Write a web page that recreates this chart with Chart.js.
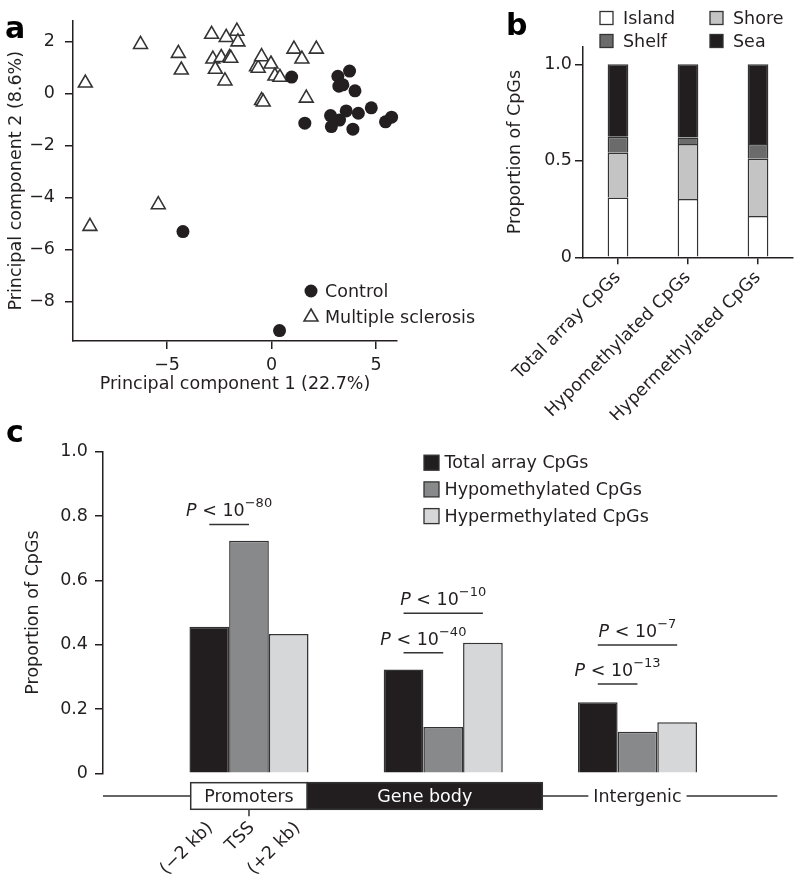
<!DOCTYPE html>
<html>
<head>
<meta charset="utf-8">
<script src="https://cdn.jsdelivr.net/npm/chart.js@4.4.1/dist/chart.umd.min.js"></script>
<style>
  body { margin: 0; background: #fff; }
  #wrap { position: relative; width: 800px; height: 881px; overflow: hidden; }
  canvas { position: absolute; }
  #pca { left: 0; top: 0; }
  #regions { left: 400px; top: 0; }
  #features { left: 0; top: 400px; }
</style>
</head>
<body>
<div id="wrap">
  <canvas id="features" width="800" height="481"></canvas>
  <canvas id="regions" width="400" height="420"></canvas>
  <canvas id="pca" width="490" height="400"></canvas>
</div>
<script>
// ---- panel a : PCA scores ----
const controlPC1 = [0.96, 3.17, 3.73, 3.22, 3.41, 3.99, 1.59, 2.82, 2.86, 3.25, 3.57, 3.89, 4.15, 4.77, 5.45, 5.74, -4.24, 0.38];
const controlPC2 = [0.63, 0.66, 0.86, 0.28, 0.33, 0.10, -1.14, -0.85, -1.27, -1.02, -0.67, -1.37, -0.76, -0.55, -1.09, -0.91, -5.30, -9.10];
const msPC1 = [-8.91, -6.27, -4.46, -4.32, -2.87, -2.81, -2.69, -2.41, -2.17, -2.01, -1.95, -2.23, -1.66, -1.61,
  -0.72, -0.64, -0.48, -0.03, 0.16, 0.40, -0.48, -0.40, 1.07, 1.45, 2.14, 1.66, -5.42, -8.69];
const msPC2 = [0.40, 1.88, 1.54, 0.90, 2.27, 1.32, 0.93, 1.38, 2.15, 1.38, 1.35, 0.48, 2.39, 1.98,
  1.03, 0.97, 1.41, 1.13, 0.67, 0.62, -0.27, -0.33, 1.70, 1.32, 1.70, -0.18, -4.27, -5.10];
const pc1Ticks = [-5, 0, 5];
const pc2Ticks = [-8, -6, -4, -2, 0, 2];

// ---- panel b : CpG island context ----
const contextCats = ["Total array CpGs", "Hypomethylated CpGs", "Hypermethylated CpGs"];
const islandShare = [0.310, 0.302, 0.214];
const shoreShare = [0.232, 0.285, 0.297];
const shelfShare = [0.083, 0.033, 0.076];
const seaShare = [0.375, 0.380, 0.413];
const shareTicks = [0, 0.5, 1.0];

// ---- panel c : gene features ----
const featureCats = ["Promoters", "Gene body", "Intergenic"];
const featurePos = [1, 2, 3];
const totalProp = [0.456, 0.323, 0.221];
const hypoProp = [0.723, 0.144, 0.129];
const hyperProp = [0.433, 0.406, 0.159];
const propTicks = [0, 0.2, 0.4, 0.6, 0.8, 1.0];

// p-value brackets: feature index, from series, to series, exponent, height
const pFeature = [0, 1, 1, 2, 2];
const pFrom = [0, 0, 0, 0, 0];
const pTo = [1, 2, 1, 2, 1];
const pExp = ["\u221280", "\u221210", "\u221240", "\u22127", "\u221213"];
const pLevel = [0.774, 0.4975, 0.375, 0.399, 0.278];

const ink = "#231f20";
const FONT = "DejaVu Sans";
const fs = 17.5;
Chart.defaults.font.family = FONT;
Chart.defaults.font.size = fs;
Chart.defaults.color = ink;

const minus = v => String(v).replace("-", "\u2212");
const setTicks = arr => scale => { scale.ticks = arr.map(v => ({ value: v })); };

const axisStyle = (tickLen, pad) => ({
  grid: { drawOnChartArea: false, drawTicks: true, tickLength: tickLen, color: ink, lineWidth: 1.5 },
  border: { display: true, color: ink, width: 1.5 },
  ticks: { padding: pad, color: ink, font: { size: fs } }
});

function letter(ch, x, y) {
  return {
    id: "letter" + ch,
    afterDraw(chart) {
      const ctx = chart.ctx;
      ctx.save();
      ctx.font = "bold 30px " + FONT;
      ctx.fillStyle = "#000";
      ctx.textAlign = "left";
      ctx.textBaseline = "alphabetic";
      ctx.fillText(ch, x, y);
      ctx.restore();
    }
  };
}

// ---------------- panel a ----------------
const pcaLegend = {
  id: "pcaLegend",
  afterDraw(chart) {
    const ctx = chart.ctx;
    ctx.save();
    const rows = [[291, 0], [317, 1]];
    rows.forEach(([y, di]) => {
      const ds = chart.data.datasets[di];
      const x = 311;
      ctx.beginPath();
      if (ds.pointStyle === "circle") {
        ctx.arc(x, y, 6.5, 0, Math.PI * 2);
        ctx.fillStyle = ink;
        ctx.fill();
      } else {
        const r = 8;
        ctx.moveTo(x, y - r);
        ctx.lineTo(x + r * Math.sin(Math.PI / 3), y + r / 2);
        ctx.lineTo(x - r * Math.sin(Math.PI / 3), y + r / 2);
        ctx.closePath();
        ctx.fillStyle = "#fff";
        ctx.fill();
        ctx.lineWidth = 1.6;
        ctx.strokeStyle = "#333";
        ctx.stroke();
      }
      ctx.fillStyle = ink;
      ctx.font = fs + "px " + FONT;
      ctx.textBaseline = "middle";
      ctx.fillText(ds.label, 325, y + 1);
    });
    ctx.restore();
  }
};

new Chart(document.getElementById("pca"), {
  type: "scatter",
  data: {
    datasets: [
      {
        label: "Control",
        data: controlPC1.map((x, i) => ({ x: x, y: controlPC2[i] })),
        pointStyle: "circle", pointRadius: 6.5, borderWidth: 0,
        backgroundColor: ink, borderColor: ink, clip: false
      },
      {
        label: "Multiple sclerosis",
        data: msPC1.map((x, i) => ({ x: x, y: msPC2[i] })),
        pointStyle: "triangle", pointRadius: 8, borderWidth: 1.6,
        backgroundColor: "#fff", borderColor: "#333", clip: false
      }
    ]
  },
  options: {
    responsive: false,
    animation: false,
    layout: { padding: { top: 16, right: 93, left: 0, bottom: 0 } },
    plugins: { legend: { display: false }, tooltip: { enabled: false } },
    scales: {
      x: Object.assign(axisStyle(8, 6), {
        min: -9.5, max: 6,
        afterBuildTicks: setTicks(pc1Ticks),
        afterFit: s => { s.height = 59; },
        title: { display: true, text: "Principal component 1 (22.7%)", font: { size: fs }, padding: { top: 0, bottom: 5.5 }, color: ink }
      }),
      y: Object.assign(axisStyle(8, 10), {
        min: -9.5, max: 2.8,
        afterBuildTicks: setTicks(pc2Ticks),
        afterFit: s => { s.width = 73; },
        title: { display: true, text: "Principal component 2 (8.6%)", font: { size: fs }, padding: { top: 5.5, bottom: 0 }, color: ink }
      })
    }
  },
  plugins: [pcaLegend, letter("a", 5, 38)]
});
Chart.getChart("pca").options.scales.x.ticks.callback = v => minus(v);
Chart.getChart("pca").options.scales.y.ticks.callback = v => minus(v);
Chart.getChart("pca").update();

// ---------------- panel b ----------------
const ctxColors = { Island: "#ffffff", Shore: "#c4c4c4", Shelf: "#6b6b6b", Sea: "#221e1f" };
const regionLegend = {
  id: "regionLegend",
  afterDraw(chart) {
    const ctx = chart.ctx;
    ctx.save();
    const spots = { Island: [200, 18], Shore: [310, 18], Shelf: [200, 41], Sea: [310, 41] };
    chart.data.datasets.forEach(ds => {
      const [x, y] = spots[ds.label];
      ctx.fillStyle = ds.backgroundColor;
      ctx.fillRect(x, y - 6.5, 13, 13);
      ctx.lineWidth = 1.3;
      ctx.strokeStyle = "#333";
      ctx.strokeRect(x, y - 6.5, 13, 13);
      ctx.fillStyle = ink;
      ctx.font = fs + "px " + FONT;
      ctx.textBaseline = "middle";
      ctx.textAlign = "left";
      ctx.fillText(ds.label, x + 23, y + 1);
    });
    ctx.restore();
  }
};

const stackSet = (label, vals) => ({
  label: label, data: vals, backgroundColor: ctxColors[label],
  borderColor: "#333", borderWidth: 1.5, barPercentage: 0.296, categoryPercentage: 1
});

new Chart(document.getElementById("regions"), {
  type: "bar",
  data: {
    labels: contextCats,
    datasets: [
      stackSet("Island", islandShare),
      stackSet("Shore", shoreShare),
      stackSet("Shelf", shelfShare),
      stackSet("Sea", seaShare)
    ]
  },
  options: {
    responsive: false,
    animation: false,
    layout: { padding: { top: 46.9, right: 7, left: 90, bottom: 0 } },
    plugins: { legend: { display: false }, tooltip: { enabled: false } },
    scales: {
      x: Object.assign(axisStyle(7, 3), {
        stacked: true,
        offset: true,
        afterFit: s => { s.height = 162.7; }
      }),
      y: Object.assign(axisStyle(8, 3), {
        stacked: true,
        min: 0, max: 1.09,
        afterBuildTicks: setTicks(shareTicks),
        afterFit: s => { s.width = 93; },
        title: { display: true, text: "Proportion of CpGs", font: { size: fs }, padding: { top: 14.5, bottom: 0 }, color: ink }
      })
    }
  },
  plugins: [regionLegend, letter("b", 106, 35)]
});
const rb = Chart.getChart("regions");
rb.options.scales.x.grid.offset = false;
rb.options.scales.x.ticks.minRotation = 45;
rb.options.scales.x.ticks.maxRotation = 45;
rb.options.scales.y.ticks.callback = v => (v === 0 ? "0" : v.toFixed(1));
rb.update();

// ---------------- panel c ----------------
const seriesColors = ["#221e1f", "#88898b", "#d6d7d9"];
const seriesNames = ["Total array CpGs", "Hypomethylated CpGs", "Hypermethylated CpGs"];
const seriesVals = [totalProp, hypoProp, hyperProp];

function drawP(ctx, cx, baseY, exp) {
  ctx.textAlign = "left";
  ctx.textBaseline = "alphabetic";
  ctx.font = "italic " + fs + "px " + FONT;
  const wP = ctx.measureText("P").width;
  ctx.font = fs + "px " + FONT;
  const wMid = ctx.measureText(" < 10").width;
  ctx.font = "13px " + FONT;
  const wExp = ctx.measureText(exp).width;
  let x = cx - (wP + wMid + wExp) / 2;
  ctx.font = "italic " + fs + "px " + FONT;
  ctx.fillText("P", x, baseY);
  x += wP;
  ctx.font = fs + "px " + FONT;
  ctx.fillText(" < 10", x, baseY);
  x += wMid;
  ctx.font = "13px " + FONT;
  ctx.fillText(exp, x, baseY - 9);
}

const featureDecor = {
  id: "featureDecor",
  afterDraw(chart) {
    const ctx = chart.ctx;
    const xs = chart.scales.x, ys = chart.scales.y;
    const area = chart.chartArea;
    ctx.save();

    // legend
    seriesNames.forEach((name, i) => {
      const y = 62.7 + i * 26.7;
      ctx.fillStyle = seriesColors[i];
      ctx.fillRect(424, y - 7.5, 15, 15);
      ctx.lineWidth = 1.3;
      ctx.strokeStyle = "#333";
      ctx.strokeRect(424, y - 7.5, 15, 15);
      ctx.fillStyle = ink;
      ctx.font = fs + "px " + FONT;
      ctx.textBaseline = "middle";
      ctx.textAlign = "left";
      ctx.fillText(name, 444.5, y + 1);
    });

    // p-value brackets
    pFeature.forEach((f, k) => {
      const a = chart.getDatasetMeta(pFrom[k]).data[f].x;
      const b = chart.getDatasetMeta(pTo[k]).data[f].x;
      const y = ys.getPixelForValue(pLevel[k]);
      ctx.strokeStyle = "#333";
      ctx.lineWidth = 1.5;
      ctx.beginPath();
      ctx.moveTo(a, y);
      ctx.lineTo(b, y);
      ctx.stroke();
      ctx.fillStyle = ink;
      drawP(ctx, (a + b) / 2, y - 8, pExp[k]);
    });

    // genomic track under the bars
    const trackY = area.bottom + 22.7;
    const boxTop = area.bottom + 9.4, boxH = 26.6;
    const px = v => xs.getPixelForValue(v);
    ctx.strokeStyle = "#333";
    ctx.lineWidth = 1.5;
    ctx.beginPath();
    ctx.moveTo(area.left, trackY);
    ctx.lineTo(px(3.72), trackY);
    ctx.stroke();

    const promoL = px(0.70), promoR = px(1.30), bodyR = px(2.51);
    ctx.fillStyle = "#fff";
    ctx.fillRect(promoL, boxTop, promoR - promoL, boxH);
    ctx.strokeRect(promoL, boxTop, promoR - promoL, boxH);
    ctx.fillStyle = "#221e1f";
    ctx.fillRect(promoR, boxTop, bodyR - promoR, boxH);
    ctx.strokeRect(promoR, boxTop, bodyR - promoR, boxH);

    ctx.font = fs + "px " + FONT;
    ctx.textAlign = "center";
    ctx.textBaseline = "middle";
    ctx.fillStyle = ink;
    ctx.fillText(featureCats[0], (promoL + promoR) / 2, trackY + 1);
    ctx.fillStyle = "#fff";
    ctx.fillText(featureCats[1], (promoR + bodyR) / 2, trackY + 1);
    const ix = px(featurePos[2]);
    const iw = ctx.measureText(featureCats[2]).width;
    ctx.fillRect(ix - iw / 2 - 5, trackY - 3, iw + 10, 6);
    ctx.fillStyle = ink;
    ctx.fillText(featureCats[2], ix, trackY + 1);

    // TSS tick and rotated labels
    const tss = px(featurePos[0]);
    ctx.beginPath();
    ctx.moveTo(tss, boxTop + boxH);
    ctx.lineTo(tss, boxTop + boxH + 7);
    ctx.stroke();
    const marks = [["(\u22122 kb)", 0.80], ["TSS", 1.015], ["(+2 kb)", 1.25]];
    marks.forEach(([t, v]) => {
      ctx.save();
      ctx.translate(px(v), area.bottom + 52);
      ctx.rotate(-Math.PI / 4);
      ctx.textAlign = "right";
      ctx.textBaseline = "middle";
      ctx.fillStyle = ink;
      ctx.fillText(t, 0, 0);
      ctx.restore();
    });
    ctx.restore();
  }
};

new Chart(document.getElementById("features"), {
  type: "bar",
  data: {
    datasets: seriesNames.map((name, i) => ({
      label: name,
      data: featurePos.map((x, j) => ({ x: x, y: seriesVals[i][j] })),
      backgroundColor: seriesColors[i],
      borderColor: "#333",
      borderWidth: 1.5,
      categoryPercentage: 0.613,
      barPercentage: 1
    }))
  },
  options: {
    responsive: false,
    animation: false,
    layout: { padding: { top: 51.7, right: 46, left: 0, bottom: 107.7 } },
    plugins: { legend: { display: false }, tooltip: { enabled: false } },
    scales: {
      x: {
        type: "linear",
        offset: false,
        min: 0.2484, max: 3.6,
        display: false,
        afterBuildTicks: setTicks(featurePos)
      },
      y: Object.assign(axisStyle(8, 7), {
        min: 0, max: 1,
        afterBuildTicks: setTicks(propTicks),
        afterFit: s => { s.width = 103; },
        title: { display: true, text: "Proportion of CpGs", font: { size: fs }, padding: { top: 22.5, bottom: 0 }, color: ink }
      })
    }
  },
  plugins: [featureDecor, letter("c", 6, 42)]
});
const fc = Chart.getChart("features");
fc.options.scales.y.ticks.callback = v => (v === 0 ? "0" : v.toFixed(1));
fc.update();
</script>
</body>
</html>
